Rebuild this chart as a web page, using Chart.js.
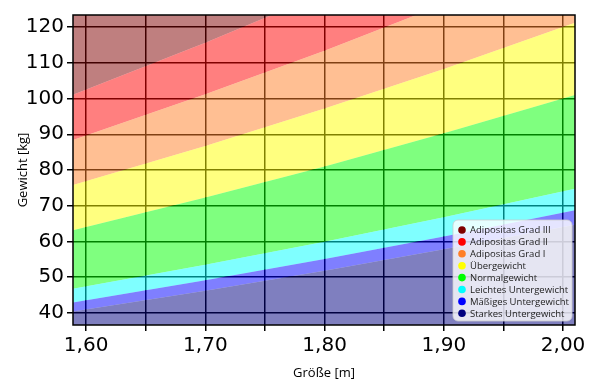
<!DOCTYPE html>
<html>
<head>
<meta charset="utf-8">
<script src="https://cdn.jsdelivr.net/npm/chart.js@4"></script>
<style>
  body { margin: 0; background: #fff; }
</style>
</head>
<body>
<canvas id="bmiChart" width="600" height="386"></canvas>
<script>
// Größe in m, obere Grenze jeder Gewichtsklasse in kg
var heights  = [1.58, 1.70, 1.80, 1.90, 2.02]
var wStark   = [39.9, 46.2, 51.8, 57.8, 65.3]
var wMaessig = [42.4, 49.1, 55.1, 61.4, 69.4]
var wLeicht  = [46.2, 53.5, 59.9, 66.8, 75.5]
var wNormal  = [62.4, 72.3, 81.0, 90.3, 102.0]
var wUeber   = [74.9, 86.7, 97.2, 108.3, 122.4]
var wAdi1    = [87.4, 101.2, 113.4, 126.4, 142.8]
var wAdi2    = [99.9, 115.6, 129.6, 144.4, 163.2]

var labels = ["Starkes Untergewicht", "Mäßiges Untergewicht", "Leichtes Untergewicht", "Normalgewicht",
              "Übergewicht", "Adipositas Grad I", "Adipositas Grad II", "Adipositas Grad III"]
var bandData = [wStark, wMaessig, wLeicht, wNormal, wUeber, wAdi1, wAdi2, wAdi2]
var fills = ['start', '-1', '-1', '-1', '-1', '-1', '-1', 'end']
var colors = ["#000080", "#0000ff", "#00ffff", "#00ff00", "#ffff00", "#ff7f27", "#ff0000", "#800000"]

var xTicks = [1.60, 1.65, 1.70, 1.75, 1.80, 1.85, 1.90, 1.95, 2.00]
var xLabels = ["1,60", "", "1,70", "", "1,80", "", "1,90", "", "2,00"]
var yTicks = [40, 50, 60, 70, 80, 90, 100, 110, 120]

function alpha(hex, a) {
    var n = parseInt(hex.slice(1), 16)
    return 'rgba(' + (n >> 16) + ',' + ((n >> 8) & 255) + ',' + (n & 255) + ',' + a + ')'
}

var datasets = labels.map(function (lab, i) {
    return {
        label: lab,
        data: heights.map(function (h, j) { return { x: h, y: bandData[i][j] } }),
        fill: fills[i],
        backgroundColor: alpha(colors[i], 0.5),
        borderWidth: 0,
        pointRadius: 0
    }
})

// Rahmen und Legende
var extras = {
    id: 'extras',
    afterDatasetsDraw: function (chart) {
        var ctx = chart.ctx, a = chart.chartArea
        ctx.save()
        ctx.strokeStyle = '#000'
        ctx.lineWidth = 1.5
        ctx.strokeRect(a.left, a.top, a.right - a.left, a.bottom - a.top)

        var bx = 453, by = 220, bw = 119, bh = 101
        ctx.beginPath()
        ctx.roundRect(bx, by, bw, bh, 5)
        ctx.fillStyle = 'rgba(255,255,255,0.8)'
        ctx.fill()
        ctx.strokeStyle = 'rgba(204,204,204,0.8)'
        ctx.lineWidth = 1
        ctx.stroke()

        ctx.font = '9.5px "Open Sans"'
        ctx.textBaseline = 'middle'
        for (var k = 0; k < labels.length; k++) {
            var i = labels.length - 1 - k
            var y = 230 + k * 11.9
            ctx.beginPath()
            ctx.arc(462, y, 3.8, 0, Math.PI * 2)
            ctx.fillStyle = colors[i]
            ctx.fill()
            ctx.fillStyle = '#222'
            ctx.fillText(labels[i], 470, y + 0.5)
        }
        ctx.restore()
    }
}

var ctxB = document.getElementById('bmiChart').getContext('2d')
var bmiChart = new Chart(ctxB, {
    type: 'line',
    data: { datasets: datasets },
    plugins: [extras],
    options: {
        responsive: false,
        animation: false,
        layout: { padding: { left: 0, right: 25, top: 15, bottom: 0 } },
        plugins: { legend: { display: false }, tooltip: { enabled: false } },
        scales: {
            x: {
                type: 'linear',
                min: 1.589,
                max: 2.010,
                afterBuildTicks: function (axis) { axis.ticks = xTicks.map(function (v) { return { value: v } }) },
                afterFit: function (axis) { axis.height = 61 },
                ticks: {
                    autoSkip: false,
                    maxRotation: 0,
                    color: '#000',
                    padding: 3,
                    font: { family: 'DejaVu Sans', size: 20 },
                    callback: function (v, i) { return xLabels[i] }
                },
                grid: { color: '#000', lineWidth: 1.5, z: -1, tickLength: 6, tickColor: '#000', tickWidth: 1.5 },
                border: { display: false },
                title: {
                    display: true,
                    text: 'Größe [m]',
                    color: '#000',
                    font: { family: 'Open Sans', size: 13 },
                    padding: { top: 0, bottom: 5 }
                }
            },
            y: {
                min: 36.6,
                max: 123.4,
                afterBuildTicks: function (axis) { axis.ticks = yTicks.map(function (v) { return { value: v } }) },
                afterFit: function (axis) { axis.width = 73 },
                ticks: {
                    autoSkip: false,
                    color: '#000',
                    padding: 3,
                    font: { family: 'DejaVu Sans', size: 20 },
                    callback: function (v) { return v }
                },
                grid: { color: '#000', lineWidth: 1.5, z: -1, tickLength: 6, tickColor: '#000', tickWidth: 1.5 },
                border: { display: false },
                title: {
                    display: true,
                    text: 'Gewicht [kg]',
                    color: '#000',
                    font: { family: 'Open Sans', size: 13 },
                    padding: { top: 15, bottom: 0 }
                }
            }
        }
    }
})
</script>
</body>
</html>
